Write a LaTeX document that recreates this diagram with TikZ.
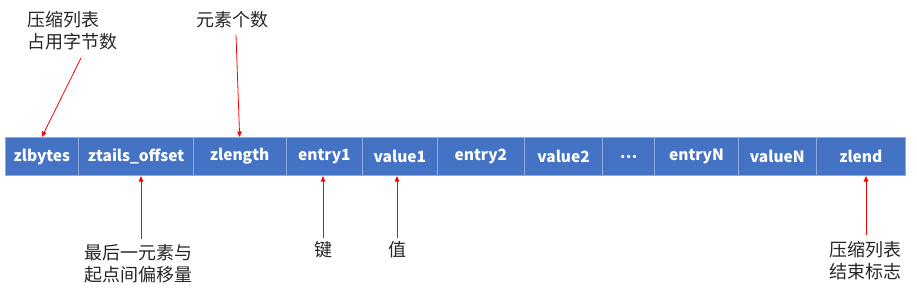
\documentclass[tikz,border=0pt]{standalone}
\usepackage{fontspec}
\setmainfont{Noto Sans CJK SC}
\usepackage{xcolor}
\usepackage{tikz}
\usetikzlibrary{
	arrows.meta,
	calc,
	positioning
}
\definecolor{CellBlue}{RGB}{68,114,196}
\definecolor{CellLine}{RGB}{143,170,220}

\begin{document}
\begin{tikzpicture}[x=1pt, y=-1pt,
	cell/.style={draw=CellLine, line width=1pt, fill=CellBlue, text=white,
		font=\fontsize{15.5}{17}\selectfont\bfseries, minimum height=38pt, inner sep=0pt},
	note/.style={font=\fontsize{18}{22}\selectfont, align=left, inner sep=0pt, text=black!85},
	arr/.style={-{Triangle[width=4.5pt,length=5.5pt]}, red, line width=0.8pt}]
	\useasboundingbox (0,0) rectangle (917,298);
	
	% 压缩列表的各个部分 (左边界/右边界/名字/文字)
	\foreach \l/\r/\nm/\txt in {5/78.7/zlbytes/zlbytes, 78.7/193.3/ztails/ztails\_offset,
		193.3/286/zlength/zlength, 286/362.7/entry1/entry1, 362.7/437/value1/value1,
		437/524.7/entry2/entry2, 524.7/602.3/value2/value2, 602.3/654.7/dots/⋯,
		654.7/738.3/entryN/entryN, 738.3/816.3/valueN/valueN, 816.3/905.3/zlend/zlend}
		\node[cell, minimum width={(\r-\l)*1pt}] (\nm) at ({(\l+\r)/2},156.5) {\txt};
	
	% 上方说明
	\node[note, anchor=north west] (lblzlb) at (27,11) {压缩列表\\占用字节数};
	\node[note, anchor=north west] (lblzlen) at (196,11) {元素个数};
	\coordinate (zlbtail) at (81,58);
	\coordinate (zlentail) at (236,35);
	\draw[arr] (zlbtail) -- (zlbytes.north);
	\draw[arr] (zlentail) -- (zlength.north);
	
	% 下方说明
	\node[note, anchor=north west] (lblzt) at (84,244) {最后一元素与\\起点间偏移量};
	\node[note, anchor=north] (lblkey) at (323,241) {键};
	\node[note, anchor=north] (lblval) at (397,241) {值};
	\node[note, anchor=north west] (lblend) at (829,241) {压缩列表\\结束标志};
	\coordinate (zttail) at (141,239);
	\coordinate (endtail) at (866,235);
	\draw[arr] (zttail) -- (zttail |- ztails.south);
	\draw[arr, shorten <=3pt] (lblkey.north) -- (lblkey.north |- entry1.south);
	\draw[arr, shorten <=3pt] (lblval.north) -- (lblval.north |- value1.south);
	\draw[arr] (endtail) -- (endtail |- zlend.south);
\end{tikzpicture}
\end{document}
